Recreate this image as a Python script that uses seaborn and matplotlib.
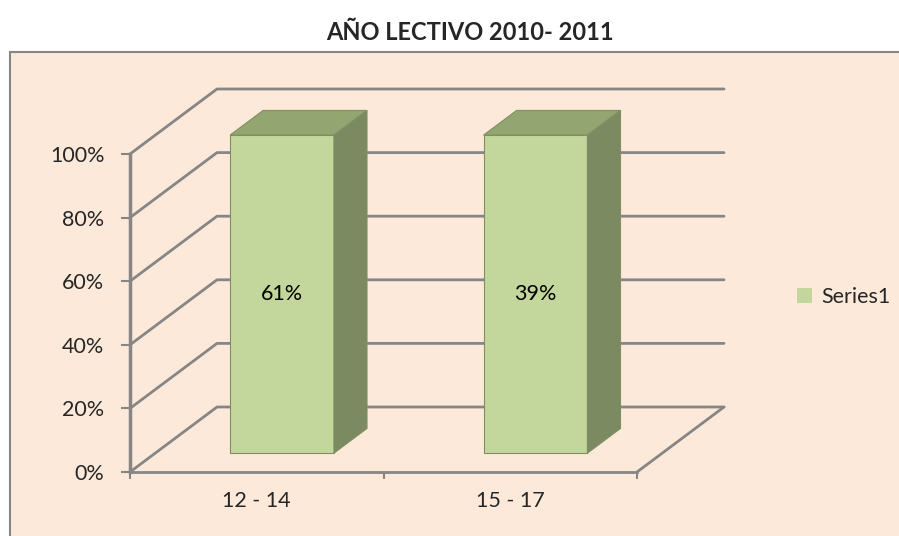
import numpy as np
import matplotlib
matplotlib.use("Agg")
import matplotlib.pyplot as plt
import matplotlib.transforms as mtransforms
from matplotlib.patches import Polygon, Patch, Rectangle
import seaborn as sns

# ------------------------ данные
title = "AÑO LECTIVO 2010- 2011"
categories = ["12 - 14", "15 - 17"]
shares = [0.61, 0.39]          # подписи на столбцах
series_name = "Series1"
y_ticks = [0.0, 0.2, 0.4, 0.6, 0.8, 1.0]

# 100% stacked, одна серия -> каждый столбец = 100%
heights = [s / s for s in shares]

# ------------------------ стиль
sns.set_style("white")
plt.rcParams['font.family'] = ['Lato', 'DejaVu Sans']

bg = '#FDE9D9'
grid_c = '#868686'
front_c = '#C3D69B'
top_c = '#93A571'
side_c = '#7B8A60'
edge_c = '#7F8F63'
fs = 15.5

DX, DY = 87, 65          # глубина 3D (пиксели)
F_FRONT, F_BACK = 0.29, 0.67

fig = plt.figure(figsize=(8.99, 5.36), dpi=100, facecolor='white')
fig.add_artist(Rectangle((10 / 899, -0.01), 1.0, (536 - 52) / 536 + 0.01,
                         transform=fig.transFigure, facecolor=bg,
                         edgecolor=grid_c, lw=1.5, zorder=0))

W, H = 899, 536
ax = fig.add_axes([130 / W, (H - 472) / H, (637 - 130) / W, (472 - 154) / H])
ax.set_facecolor('none')
ax.patch.set_visible(False)

sns.barplot(x=categories, y=heights, width=0.41, color=front_c, saturation=1,
            ax=ax, zorder=3)
ax.set_xlim(-0.5, 1.5)
ax.set_ylim(0, 1)


def depth_tr(f):
    return ax.transData + mtransforms.Affine2D().translate(f * DX, f * DY)


def pt(x, v, f):
    d = ax.transData.transform((x, v))
    return (d[0] + f * DX, d[1] + f * DY)


ident = mtransforms.IdentityTransform()

# Сетка: левая стенка + задняя стенка
x_left, x_right = -0.5, 1.5
for v in y_ticks:
    p0, p1, p2 = pt(x_left, v, 0), pt(x_left, v, 1), pt(x_right, v, 1)
    ax.plot([p0[0], p1[0], p2[0]], [p0[1], p1[1], p2[1]], color=grid_c, lw=2,
            transform=ident, clip_on=False, zorder=1)
# правая граница пола
p0, p1 = pt(x_right, 0, 0), pt(x_right, 0, 1)
ax.plot([p0[0], p1[0]], [p0[1], p1[1]], color=grid_c, lw=2,
        transform=ident, clip_on=False, zorder=1)

# 3D столбцы
for bar, s in zip(ax.patches, shares):
    x0 = bar.get_x()
    x1 = x0 + bar.get_width()
    h = bar.get_height()
    bar.set_transform(depth_tr(F_FRONT))
    bar.set_edgecolor(edge_c)
    bar.set_linewidth(0.8)
    bar.set_clip_on(False)
    top = [pt(x0, h, F_FRONT), pt(x1, h, F_FRONT), pt(x1, h, F_BACK), pt(x0, h, F_BACK)]
    side = [pt(x1, 0, F_FRONT), pt(x1, h, F_FRONT), pt(x1, h, F_BACK), pt(x1, 0, F_BACK)]
    for poly, c in ((top, top_c), (side, side_c)):
        ax.add_patch(Polygon(poly, closed=True, facecolor=c, edgecolor=edge_c,
                             lw=0.8, transform=ident, clip_on=False, zorder=3))
    ax.text((x0 + x1) / 2, h / 2, f"{s:.0%}", transform=depth_tr(F_FRONT),
            ha='center', va='center', fontsize=fs, color='black', zorder=4)

# Оси
for side in ['top', 'right']:
    ax.spines[side].set_visible(False)
ax.spines['left'].set_color(grid_c)
ax.spines['left'].set_linewidth(2.5)
ax.spines['bottom'].set_color(grid_c)
ax.spines['bottom'].set_linewidth(2)
ax.spines['left'].set_zorder(2)

ax.set_yticks(y_ticks)
ax.set_yticklabels([f"{v:.0%}" for v in y_ticks])
ax.tick_params(axis='y', which='major', direction='out', length=6.5, width=1.5,
               color=grid_c, pad=12, labelsize=fs, left=True)
ax.set_xticks([0, 1])
ax.set_xticklabels(categories)
ax.set_xticks([-0.5, 0.5, 1.5], minor=True)
ax.tick_params(axis='x', which='major', length=0, pad=14, labelsize=fs)
ax.tick_params(axis='x', which='minor', direction='out', length=5, width=1.5,
               color=grid_c, bottom=True)
ax.set_xlabel('')
ax.set_ylabel('')
ax.grid(False)

fig.text(470 / W, 1 - 32 / H, title, ha='center', va='center', fontsize=17,
         fontweight='bold')

ax.legend(handles=[Patch(facecolor=front_c, edgecolor='none')], labels=[series_name],
          loc='center left', bbox_to_anchor=(778 / W, 1 - 297 / H),
          bbox_transform=fig.transFigure, frameon=False, fontsize=fs,
          handlelength=0.7, handleheight=0.7, handletextpad=0.4)

fig.savefig('out.png', dpi=100)
